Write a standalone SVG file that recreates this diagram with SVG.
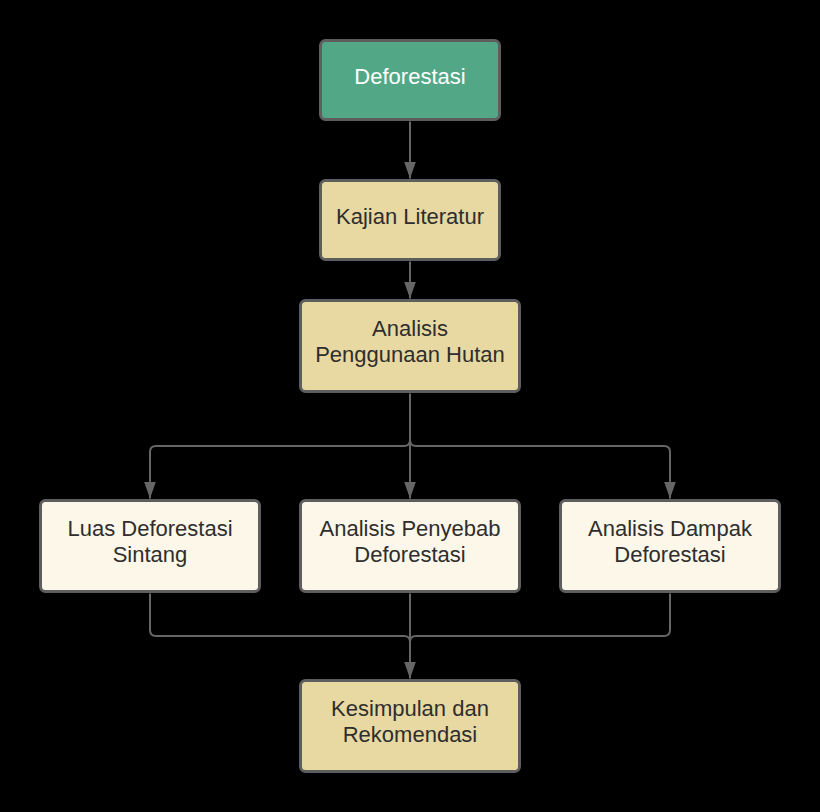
<svg xmlns="http://www.w3.org/2000/svg" width="820" height="812" viewBox="0 0 820 812">
<style>
.box{stroke:#5e5e5e;stroke-width:3}
.green{fill:#52a886}
.tan{fill:#e8d8a2}
.cream{fill:#fcf7e8}
.t{font-family:"Liberation Sans",Arial,sans-serif;font-size:22px;fill:#2e2e2e;text-anchor:middle}
.w{fill:#ffffff}
.c{fill:none;stroke:#666666;stroke-width:2}
</style>
<defs>
<marker id="ad" markerUnits="userSpaceOnUse" markerWidth="18" markerHeight="14" viewBox="0 0 18 14" refX="17" refY="7" orient="auto">
<path d="M0 1 L17 7 L0 13 Z" fill="#666666"/>
</marker>
</defs>
<rect width="820" height="812" fill="#000000"/>
<g id="connectors">
<path class="c" d="M410 121.5 V178.5" marker-end="url(#ad)"/>
<path class="c" d="M410 261.5 V298.5" marker-end="url(#ad)"/>
<path class="c" d="M410 393.5 V498.5" marker-end="url(#ad)"/>
<path class="c" d="M410 440 Q410 446 404 446 H156 Q150 446 150 452 V498.5" marker-end="url(#ad)"/>
<path class="c" d="M410 440 Q410 446 416 446 H664 Q670 446 670 452 V498.5" marker-end="url(#ad)"/>
<path class="c" d="M410 593.5 V678.5" marker-end="url(#ad)"/>
<path class="c" d="M150 593.5 V630 Q150 636 156 636 H404 Q410 636 410 642"/>
<path class="c" d="M670 593.5 V630 Q670 636 664 636 H416 Q410 636 410 642"/>
</g>
<g id="node-deforestasi">
<rect class="box green" x="320.5" y="40.5" width="179" height="79" rx="5"/>
<text class="t w" x="410" y="84">Deforestasi</text>
</g>
<g id="node-kajian">
<rect class="box tan" x="320.5" y="180.5" width="179" height="79" rx="5"/>
<text class="t" x="410" y="224">Kajian Literatur</text>
</g>
<g id="node-analisis-penggunaan">
<rect class="box tan" x="300.5" y="300.5" width="219" height="91" rx="5"/>
<text class="t" x="410" y="336">Analisis</text>
<text class="t" x="410" y="362">Penggunaan Hutan</text>
</g>
<g id="node-luas">
<rect class="box cream" x="40.5" y="500.5" width="219" height="91" rx="5"/>
<text class="t" x="150" y="536">Luas Deforestasi</text>
<text class="t" x="150" y="562">Sintang</text>
</g>
<g id="node-penyebab">
<rect class="box cream" x="300.5" y="500.5" width="219" height="91" rx="5"/>
<text class="t" x="410" y="536">Analisis Penyebab</text>
<text class="t" x="410" y="562">Deforestasi</text>
</g>
<g id="node-dampak">
<rect class="box cream" x="560.5" y="500.5" width="219" height="91" rx="5"/>
<text class="t" x="670" y="536">Analisis Dampak</text>
<text class="t" x="670" y="562">Deforestasi</text>
</g>
<g id="node-kesimpulan">
<rect class="box tan" x="300.5" y="680.5" width="219" height="91" rx="5"/>
<text class="t" x="410" y="716">Kesimpulan dan</text>
<text class="t" x="410" y="742">Rekomendasi</text>
</g>
</svg>
